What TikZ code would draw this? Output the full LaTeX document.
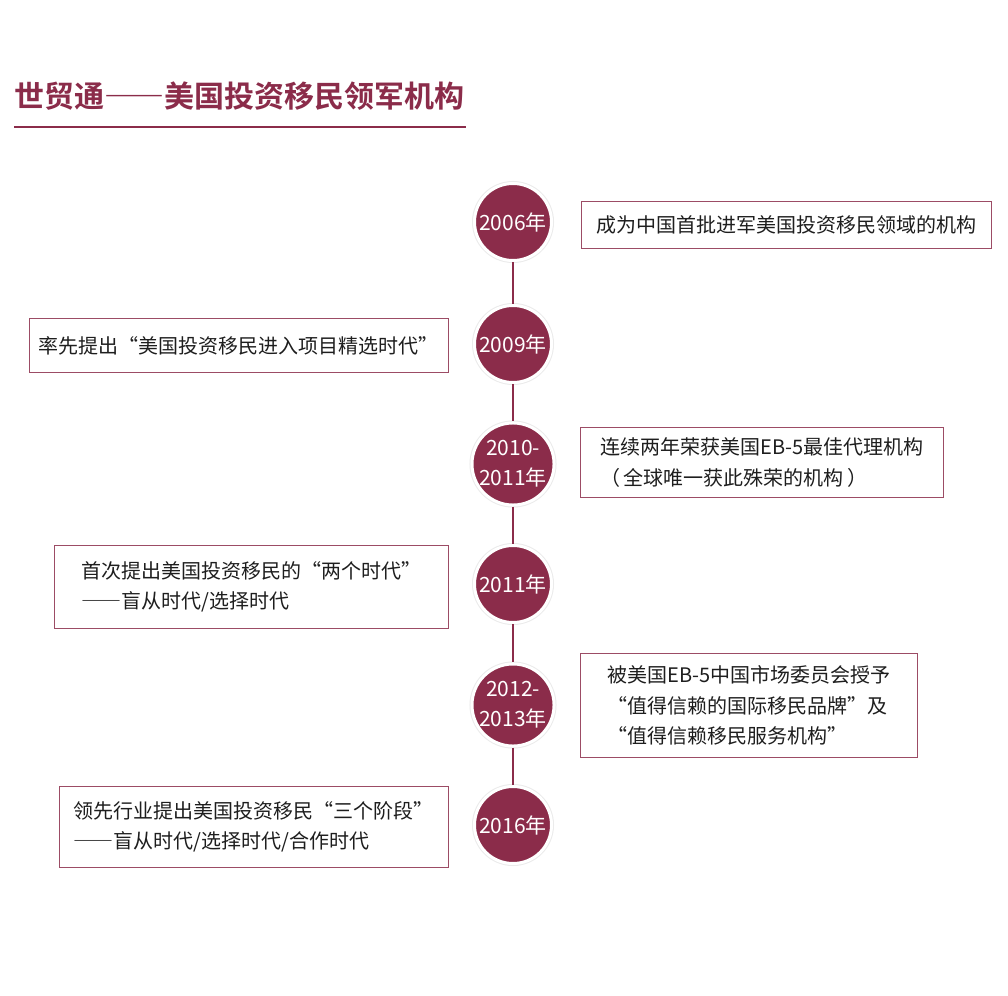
\documentclass[tikz,border=0pt]{standalone}
\usepackage{fontspec}
\setmainfont{Noto Sans CJK SC}
\newfontfamily\titlefont[CharacterWidth=Full]{Noto Sans CJK SC Bold}
\newfontfamily\fullwidth[CharacterWidth=Full]{Noto Sans CJK SC}
\newcommand{\fw}[1]{{\fullwidth #1}}
\definecolor{sgtred}{HTML}{8B2C4A}
\definecolor{boxtext}{HTML}{1E1E1E}
\begin{document}
\begin{tikzpicture}[x=1pt,y=-1pt,
    yearnode/.style={circle,fill=sgtred,text=white,draw=white,line width=3pt,
        minimum size=77pt,inner sep=0pt,align=center,
        font={\fontsize{21}{30}\selectfont},
        preaction={draw=black!8,line width=5pt}},
    infobox/.style={draw=sgtred!85,line width=0.9pt,anchor=north west,
        align=left,text=boxtext,inner sep=0pt,
        font={\fontsize{20}{30.5}\selectfont}},
    link/.style={draw=sgtred,line width=2pt}]
    \useasboundingbox (0,0) rectangle (1008,995);
    \fill[white] (0,0) rectangle (1008,995);
    % Draw title
    \node[anchor=west,inner sep=0pt,text=sgtred,font={\titlefont\fontsize{30}{30}\selectfont}]
        (title) at (14,96) {世贸通——美国投资移民领军机构};
    \draw[sgtred,line width=2pt] (14,127) -- (466,127);
    % Draw years
    \node[yearnode] (y2006) at (513,222) {2006年};
    \node[yearnode] (y2009) at (513,344) {2009年};
    \node[yearnode] (y2010) at (513,464) {2010-\\2011年};
    \node[yearnode] (y2011) at (513,584) {2011年};
    \node[yearnode] (y2012) at (513,705) {2012-\\2013年};
    \node[yearnode] (y2016) at (513,825) {2016年};
    \draw[link] (y2006) -- (y2009);
    \draw[link] (y2009) -- (y2010);
    \draw[link] (y2010) -- (y2011);
    \draw[link] (y2011) -- (y2012);
    \draw[link] (y2012) -- (y2016);
    % Draw events
    \node[infobox,minimum width=410pt,minimum height=47pt] (e2006) at (581,201)
        {成为中国首批进军美国投资移民领域的机构};
    \node[infobox,minimum width=419pt,minimum height=54pt] (e2009) at (29,318)
        {率先提出\fw{“}美国投资移民进入项目精选时代\fw{”}};
    \node[infobox,minimum width=363pt,minimum height=70pt] (e2010) at (580,427)
        {连续两年荣获美国EB-5最佳代理机构\\（\,全球唯一获此殊荣的机构\,）};
    \node[infobox,minimum width=394pt,minimum height=83pt] (e2011) at (54,545)
        {首次提出美国投资移民的\fw{“}两个时代\fw{”}\\\fw{——}盲从时代/选择时代};
    \node[infobox,minimum width=337pt,minimum height=104pt] (e2012) at (580,653)
        {被美国EB-5中国市场委员会授予\\\fw{“}值得信赖的国际移民品牌\fw{”}及\\\fw{“}值得信赖移民服务机构\fw{”}};
    \node[infobox,minimum width=389pt,minimum height=81pt] (e2016) at (59,786)
        {领先行业提出美国投资移民\fw{“}三个阶段\fw{”}\\\fw{——}盲从时代/选择时代/合作时代};
\end{tikzpicture}
\end{document}
